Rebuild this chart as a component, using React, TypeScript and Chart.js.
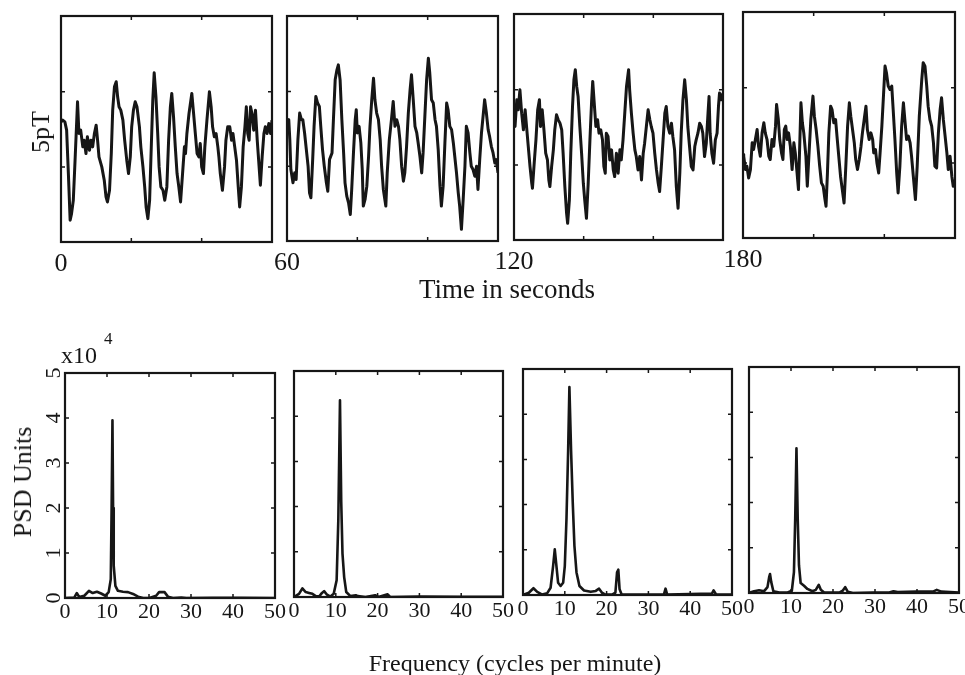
import React, { useEffect, useRef } from "react";
import { Chart, registerables } from "chart.js";

Chart.register(...registerables);

// ---------------- DATA ----------------
// Top row: magnetometer trace, [time in s, signal in arbitrary units (0..67.7 spans the frame)]
const signal0to60: [number, number][] = [
  [0, 36], [0.5, 36.5], [1.1, 36], [1.6, 33.5], [2.1, 20.5], [2.6, 6.5], [3.0, 8.5], [3.5, 12.5], [4.0, 24.5], [4.7, 42],
  [5.1, 32.5], [5.6, 33.5], [6.2, 28.5], [6.6, 30.5], [7.1, 26.5], [7.5, 31.5], [8.1, 27.5], [8.5, 30.5], [9.0, 28.5], [9.5, 32.5],
  [10.0, 35], [10.4, 30.5], [10.8, 25.5], [11.6, 22.5], [12.3, 18.5], [12.8, 13.5], [13.2, 12], [13.8, 15.5], [14.3, 26.5], [14.7, 39.5],
  [15.2, 46.5], [15.7, 48], [16.1, 43.5], [16.5, 40.5], [17.0, 39.5], [17.6, 36.5], [18.1, 30.5], [18.7, 24.5], [19.2, 20.5], [19.7, 25.5],
  [20.1, 34.5], [20.6, 39.5], [21.1, 42], [21.6, 40.5], [21.9, 38], [22.3, 34.5], [22.7, 28.5], [23.3, 22.5], [23.8, 16.5], [24.2, 10.5],
  [24.7, 7], [25.2, 12.5], [25.7, 29.5], [26.1, 42.5], [26.5, 50.7], [27.0, 43.5], [27.5, 32.5], [27.9, 22.5], [28.4, 16.5], [29.0, 15.5],
  [29.5, 12.5], [30.1, 16.5], [30.6, 30.5], [31.1, 40.5], [31.5, 44.5], [32.0, 37.5], [32.5, 28.5], [33.0, 20.5], [33.5, 16.5], [34.0, 12],
  [34.5, 19.5], [35.1, 28.5], [35.4, 26.5], [35.8, 32.5], [36.4, 38.5], [37.2, 44.5], [37.7, 38.5], [38.2, 32.5], [38.7, 26.5], [39.2, 25.5],
  [39.6, 29.5], [40.0, 22.5], [40.5, 20.5], [40.9, 28.5], [41.5, 36.5], [42.2, 45], [42.7, 40.5], [43.1, 34.5], [43.6, 31.5], [44.1, 32.5],
  [44.6, 28.5], [44.9, 25.5], [45.3, 20.5], [45.9, 15.5], [46.5, 22.5], [46.9, 30.5], [47.4, 34.5], [48.0, 34.5], [48.5, 30.5], [48.9, 32.5],
  [49.4, 28.5], [49.9, 24.5], [50.4, 16.5], [50.8, 10.5], [51.3, 16.5], [51.8, 28.5], [52.3, 34.5], [52.7, 40.5], [53.1, 32.5], [53.5, 30.5],
  [53.9, 40.5], [54.3, 38.5], [54.8, 33.5], [55.3, 39.5], [55.8, 30.5], [56.2, 24.5], [56.7, 17], [57.2, 25.5], [57.7, 32.5], [58.1, 34.5],
  [58.6, 32.5], [59.1, 35.5], [59.6, 32.5], [60, 36.5],
];

const signal60to120: [number, number][] = [
  [60, 36], [60.5, 36.5], [60.8, 30.5], [61.1, 21.5], [61.7, 17.5], [62.2, 20.5], [62.6, 18.5], [63.1, 30.5], [63.6, 38.5], [64.1, 36.5],
  [64.5, 36.5], [65.0, 32.5], [65.5, 27.5], [66.0, 22.5], [66.4, 14.5], [66.8, 13], [67.3, 24.5], [67.7, 34.5], [68.2, 43.5], [68.7, 41.5],
  [69.2, 40.5], [69.6, 34.5], [70.1, 27.5], [70.6, 22.5], [71.2, 17.5], [71.6, 15], [72.1, 24.5], [72.8, 26.5], [73.2, 36.5], [73.7, 48.5],
  [74.2, 51.5], [74.6, 53], [75.1, 48.5], [75.6, 36.5], [76.1, 26.5], [76.5, 17.5], [77.0, 13.5], [77.5, 11.5], [78.0, 8], [78.4, 15.5],
  [78.9, 26.5], [79.4, 36.5], [79.7, 39.5], [80.0, 32.5], [80.5, 34.5], [81.0, 29.5], [81.4, 21.5], [81.7, 10.5], [82.2, 12.5], [82.7, 16.5],
  [83.2, 25.5], [83.6, 34.5], [84.1, 42.5], [84.6, 49], [85.0, 42.5], [85.5, 38.5], [86.0, 36.5], [86.5, 30.5], [86.9, 22.5], [87.4, 15.5],
  [88.1, 10.5], [88.5, 20.5], [89.1, 30.5], [89.7, 36.5], [90.2, 42], [90.7, 34.5], [91.2, 36.5], [91.7, 34.5], [92.1, 30.5], [92.6, 22.5],
  [93.1, 18], [93.5, 20.5], [94.0, 28.5], [94.5, 38.5], [95.0, 45.5], [95.4, 50], [95.9, 42.5], [96.4, 34.5], [96.9, 32.5], [97.3, 29.5],
  [97.8, 25.5], [98.3, 20.5], [98.7, 26.5], [99.2, 37.5], [99.7, 48.5], [100.2, 55], [100.6, 50.5], [101.1, 42.5], [101.6, 41.5], [102.1, 36.5],
  [102.5, 34.5], [103.0, 27.5], [103.5, 16.5], [103.9, 10.5], [104.4, 16.5], [104.9, 29.5], [105.4, 41.5], [105.8, 39.5], [106.3, 34.5], [106.8, 33.5],
  [107.3, 29.5], [107.7, 25.5], [108.2, 20.5], [108.7, 14.5], [109.1, 10.5], [109.6, 3.5], [110.1, 12.5], [110.6, 22.5], [111.0, 34.5], [111.5, 32.5],
  [112.0, 26.5], [112.4, 22.5], [112.9, 21.5], [113.4, 19.5], [113.9, 22.5], [114.3, 15.5], [114.8, 24.5], [115.3, 32.5], [115.8, 38], [116.2, 42.5],
  [116.7, 38.5], [117.2, 33.5], [117.6, 31.5], [118.1, 28.5], [118.6, 26.5], [119.1, 23.5], [119.5, 24.5], [120, 20.5],
];

const signal120to180: [number, number][] = [
  [120, 34], [120.3, 34], [120.8, 42], [121.2, 39], [121.7, 45], [122.2, 38], [122.7, 33], [123.2, 39], [123.6, 34], [124.1, 28],
  [124.6, 22], [125.1, 17], [125.3, 15.5], [125.8, 23], [126.3, 30], [126.8, 39], [127.3, 42], [127.6, 34], [128.1, 39], [128.6, 33],
  [129.1, 26], [129.6, 24], [130.0, 18], [130.3, 16], [130.8, 22], [131.3, 27], [131.7, 33], [132.2, 37.5], [132.7, 36], [133.2, 35],
  [133.7, 33], [134.1, 26], [134.6, 16], [135.1, 8], [135.4, 5], [135.9, 12], [136.3, 26], [136.8, 40], [137.2, 48], [137.6, 51],
  [138.0, 46], [138.4, 43], [138.9, 34], [139.4, 26], [139.9, 17], [140.3, 12], [140.8, 6.5], [141.3, 17], [141.8, 30], [142.3, 42],
  [142.6, 47.5], [143.1, 40], [143.5, 34], [144.0, 36], [144.4, 32], [144.9, 33], [145.4, 30], [145.8, 22], [146.2, 20], [146.5, 32],
  [147.0, 31], [147.5, 24], [148.0, 27], [148.5, 21], [148.9, 19], [149.4, 26], [149.9, 20], [150.4, 27], [150.8, 24], [151.3, 30],
  [151.8, 38], [152.3, 46], [152.9, 51], [153.2, 45], [153.7, 38], [154.2, 32], [154.7, 27], [155.1, 25], [155.6, 21], [156.1, 25],
  [156.6, 18], [157.1, 26], [157.5, 29], [158.0, 34], [158.5, 39], [159.0, 36], [159.4, 34], [159.9, 32], [160.4, 26], [160.9, 21],
  [161.4, 17], [161.8, 14.5], [162.3, 22], [162.8, 30], [163.3, 38], [163.7, 40], [164.2, 34], [164.7, 32], [165.2, 35], [165.6, 31],
  [166.1, 27], [166.6, 16], [167.1, 9.5], [167.6, 20], [168.0, 32], [168.5, 42], [169.0, 48], [169.5, 42], [169.9, 34], [170.4, 28],
  [170.9, 22], [171.4, 21], [171.9, 28], [172.3, 30], [172.8, 32], [173.3, 35], [173.8, 34], [174.2, 32], [174.7, 25], [175.2, 29],
  [175.7, 38], [176.0, 43], [176.3, 32], [176.8, 26], [177.3, 23], [177.8, 30], [178.3, 32], [178.7, 40], [179.0, 44], [179.5, 42],
  [180, 44],
];

const signal180to240: [number, number][] = [
  [180, 25], [180.2, 24.5], [180.7, 20.5], [181.1, 21.5], [181.6, 18], [182.1, 20.5], [182.6, 28.5], [183.0, 26.5], [183.5, 29.5], [184.0, 32.5],
  [184.4, 27.5], [184.9, 24.5], [185.4, 31.5], [185.9, 34.5], [186.3, 31.5], [186.8, 29.5], [187.3, 24.5], [187.7, 23.5], [188.2, 29.5], [188.7, 27.5],
  [189.2, 33.5], [189.5, 40], [190.0, 35.5], [190.4, 29.5], [190.9, 25.5], [191.3, 23.5], [191.7, 32.5], [192.1, 33.5], [192.5, 29.5], [192.9, 31.5],
  [193.4, 27.5], [193.9, 20.5], [194.4, 28.5], [194.8, 25.5], [195.3, 19.5], [195.7, 14.5], [196.1, 29.5], [196.4, 40.5], [196.8, 34.5], [197.2, 31.5],
  [197.8, 24.5], [198.2, 15.5], [198.7, 25.5], [199.2, 35.5], [199.8, 42.5], [200.2, 36.5], [200.7, 32.5], [201.2, 27.5], [201.7, 21.5], [202.2, 16.5],
  [202.7, 15.5], [203.2, 11.5], [203.5, 9.5], [203.9, 19.5], [204.3, 31.5], [204.8, 39.5], [205.2, 38.5], [205.7, 34.5], [206.2, 35.5], [206.6, 30.5],
  [207.1, 24.5], [207.6, 18.5], [208.1, 14.5], [208.6, 10.5], [209.1, 21.5], [209.6, 33.5], [210.1, 40.5], [210.5, 36.5], [211.0, 32.5], [211.5, 28.5],
  [211.9, 23.5], [212.4, 20.5], [212.9, 23.5], [213.4, 27.5], [213.8, 31.5], [214.3, 35.5], [214.8, 39.5], [215.2, 32.5], [215.7, 29.5], [216.2, 31.5],
  [216.7, 29.5], [217.0, 25.5], [217.5, 26.5], [217.9, 22.5], [218.4, 19.5], [218.8, 25.5], [219.3, 33.5], [219.7, 41.5], [220.2, 51.5], [220.6, 49.5],
  [221.1, 45.5], [221.6, 44.5], [222.1, 45.5], [222.5, 38.5], [223.0, 29.5], [223.5, 19.5], [223.9, 13.5], [224.4, 21.5], [224.9, 33.5], [225.4, 40.5],
  [225.8, 35.5], [226.3, 29.5], [226.8, 30.5], [227.3, 28.5], [227.7, 24.5], [228.2, 18.5], [228.8, 11.5], [229.3, 21.5], [229.9, 36.5], [230.6, 47.5],
  [231.0, 52.5], [231.5, 51.5], [232.0, 45.5], [232.4, 39.5], [232.9, 35.5], [233.4, 33.5], [233.9, 28.5], [234.3, 21.5], [234.8, 21], [235.3, 31.5],
  [235.8, 38.5], [236.2, 42], [236.7, 35.5], [237.2, 30.5], [237.7, 25.5], [238.1, 20.5], [238.6, 24.5], [239.1, 18.5], [239.5, 15.5], [240, 17.5],
];

// Bottom row: power spectral density (x10^4 PSD units) vs frequency (cycles per minute)
const psdFreq1 = [0, 0.2, 2.2, 2.8, 3.4, 4.6, 5.7, 6.6, 7.6, 8.6, 9.6, 10.4, 10.9, 11.1, 11.3, 11.45, 11.6, 12.0, 12.6, 13.8, 15.0, 16.2, 17.4, 18.6, 20.1, 21.7, 22.4, 23.7, 24.5, 25.7, 27.7, 28.9, 35, 42, 50];
const psdPower1 = [0, 0, 0.01, 0.11, 0.02, 0.05, 0.16, 0.11, 0.14, 0.1, 0.05, 0.13, 0.42, 2.0, 3.95, 2.0, 0.72, 0.27, 0.16, 0.14, 0.13, 0.09, 0.03, 0, 0, 0.05, 0.13, 0.13, 0.03, 0, 0.01, 0, 0.005, 0.005, 0];

const psdFreq2 = [0, 0.2, 1.2, 2.0, 2.8, 3.6, 4.4, 5.2, 6.0, 6.7, 7.2, 7.8, 8.7, 9.5, 10.2, 10.6, 11.0, 11.3, 11.6, 12.0, 12.5, 13.5, 14.8, 15.3, 17.1, 19.4, 20.2, 22.4, 23.0, 30, 40, 50];
const psdPower2 = [0, 0, 0.07, 0.19, 0.11, 0.09, 0.07, 0.02, 0.01, 0.09, 0.13, 0.06, 0.01, 0.07, 0.37, 1.7, 4.35, 2.1, 0.96, 0.44, 0.11, 0.02, 0.04, 0.02, 0, 0.04, 0, 0.06, 0, 0.01, 0.005, 0.005];

const psdFreq3 = [0, 0.2, 1.4, 2.5, 3.4, 4.6, 5.8, 6.6, 7.2, 7.6, 8.0, 8.4, 9.0, 9.6, 10.0, 10.4, 10.8, 11.1, 11.5, 11.9, 12.3, 12.8, 13.5, 14.6, 16.2, 17.4, 18.2, 18.9, 19.7, 21.3, 22.1, 22.5, 22.8, 23.1, 23.6, 26.1, 33.7, 34.1, 34.5, 45.2, 45.6, 46.2, 50];
const psdPower3 = [0, 0, 0.05, 0.15, 0.07, 0.01, 0.04, 0.16, 0.64, 1.01, 0.64, 0.27, 0.2, 0.27, 0.64, 1.68, 3.2, 4.6, 3.2, 2.05, 1.09, 0.5, 0.2, 0.1, 0.07, 0.09, 0.14, 0.05, 0.01, 0.01, 0.05, 0.5, 0.56, 0.13, 0.01, 0.01, 0.01, 0.14, 0.01, 0.03, 0.1, 0.01, 0.01];

const psdFreq4 = [0, 0.2, 1.2, 2.4, 3.6, 4.4, 4.8, 5.0, 5.3, 5.8, 7.2, 9.2, 10.2, 10.7, 11.0, 11.3, 11.6, 11.9, 12.3, 13.1, 13.9, 15.1, 15.9, 16.6, 17.1, 17.9, 21.5, 22.3, 22.9, 23.5, 24.7, 29.5, 33.4, 34.4, 35.4, 39.8, 43.8, 44.7, 45.8, 50];
const psdPower4 = [0, 0, 0.04, 0.06, 0.04, 0.13, 0.35, 0.42, 0.24, 0.04, 0.01, 0.01, 0.05, 0.46, 1.64, 3.2, 1.64, 0.61, 0.22, 0.16, 0.09, 0.04, 0.07, 0.18, 0.07, 0.01, 0.01, 0.05, 0.13, 0.03, 0, 0.01, 0.01, 0.04, 0.02, 0.03, 0.03, 0.07, 0.03, 0.01];

const timeWindowStarts = [0, 60, 120, 180];
const psdTicks = [0, 10, 20, 30, 40, 50];
const psdYTicks = [0, 1, 2, 3, 4, 5];

// ---------------- LAYOUT ----------------
const W = 965;
const H = 675;
const AXIS_H = 44;
const INK = "#161616";
const FONT = "'Liberation Serif', 'Times New Roman', serif";

type Box = { left: number; top: number; right: number; bottom: number };

interface PanelSpec {
  id: string;
  kind: "time" | "psd";
  points: { x: number; y: number }[];
  xMin: number;
  xMax: number;
  yMax: number;
  box: Box;
  yLabels: boolean;
  xMarks: number[];
  yMarks: number[];
}

const topBoxes: Box[] = [
  { left: 61, top: 16, right: 272, bottom: 242 },
  { left: 287, top: 16, right: 498, bottom: 241 },
  { left: 514, top: 14, right: 723, bottom: 240 },
  { left: 743, top: 12, right: 955, bottom: 238 },
];
const bottomBoxes: Box[] = [
  { left: 65, top: 373, right: 275, bottom: 598 },
  { left: 294, top: 371, right: 503, bottom: 597 },
  { left: 523, top: 369, right: 732, bottom: 595 },
  { left: 749, top: 367, right: 959, bottom: 593 },
];

const topSeries = [signal0to60, signal60to120, signal120to180, signal180to240];
const psdSeries: [number[], number[]][] = [
  [psdFreq1, psdPower1],
  [psdFreq2, psdPower2],
  [psdFreq3, psdPower3],
  [psdFreq4, psdPower4],
];

const panels: PanelSpec[] = [
  ...topSeries.map((s, i) => ({
    id: "top" + i,
    kind: "time" as const,
    points: s.map(([x, y]) => ({ x, y })),
    xMin: timeWindowStarts[i],
    xMax: timeWindowStarts[i] + 60,
    yMax: 67.7,
    box: topBoxes[i],
    yLabels: false,
    xMarks: [timeWindowStarts[i] + 20, timeWindowStarts[i] + 40],
    yMarks: [22.5, 45],
  })),
  ...psdSeries.map(([f, p], i) => ({
    id: "psd" + i,
    kind: "psd" as const,
    points: f.map((x, k) => ({ x, y: p[k] })),
    xMin: 0,
    xMax: 50,
    yMax: 5,
    box: bottomBoxes[i],
    yLabels: i === 0,
    xMarks: psdTicks.slice(1, -1),
    yMarks: psdYTicks.slice(1, -1),
  })),
];

const framePlugin = {
  id: "frame",
  afterDatasetsDraw(chart: any, _args: any, opts: any) {
    const { ctx, chartArea: a, scales } = chart;
    const xs = scales.x;
    const ys = scales.y;
    ctx.save();
    ctx.strokeStyle = INK;
    ctx.lineWidth = 2.2;
    ctx.strokeRect(a.left, a.top, a.right - a.left, a.bottom - a.top);
    ctx.lineWidth = 1.5;
    ctx.beginPath();
    (opts.xMarks || []).forEach((v: number) => {
      const px = xs.getPixelForValue(v);
      ctx.moveTo(px, a.bottom);
      ctx.lineTo(px, a.bottom - 4);
      ctx.moveTo(px, a.top);
      ctx.lineTo(px, a.top + 4);
    });
    (opts.yMarks || []).forEach((v: number) => {
      const py = ys.getPixelForValue(v);
      ctx.moveTo(a.left, py);
      ctx.lineTo(a.left + 4, py);
      ctx.moveTo(a.right, py);
      ctx.lineTo(a.right - 4, py);
    });
    ctx.stroke();
    if (opts.yLabels) {
      ctx.fillStyle = INK;
      ctx.font = `22px ${FONT}`;
      ctx.textAlign = "center";
      ctx.textBaseline = "middle";
      ys.ticks.forEach((t: any) => {
        const py = ys.getPixelForValue(t.value);
        ctx.save();
        ctx.translate(a.left - 11, py);
        ctx.rotate(-Math.PI / 2);
        ctx.fillText(String(t.label), 0, 0);
        ctx.restore();
      });
    }
    ctx.restore();
  },
};

function Panel({ spec }: { spec: PanelSpec }) {
  const ref = useRef<HTMLCanvasElement | null>(null);
  useEffect(() => {
    if (!ref.current) return;
    const { box } = spec;
    const isTime = spec.kind === "time";
    const chart = new Chart(ref.current, {
      type: "line",
      data: {
        datasets: [
          {
            data: spec.points,
            borderColor: INK,
            borderWidth: isTime ? 3 : 2.6,
            pointRadius: 0,
            tension: 0,
            fill: false,
            borderJoinStyle: "round",
          } as any,
        ],
      },
      options: {
        animation: false,
        responsive: false,
        devicePixelRatio: 1,
        events: [],
        layout: {
          padding: {
            left: box.left,
            top: box.top,
            right: W - box.right,
            bottom: H - box.bottom - AXIS_H,
          },
        },
        plugins: {
          legend: { display: false },
          tooltip: { enabled: false },
          frame: { xMarks: spec.xMarks, yMarks: spec.yMarks, yLabels: spec.yLabels },
        } as any,
        scales: {
          x: {
            type: "linear",
            min: spec.xMin,
            max: spec.xMax,
            grid: { display: false, drawTicks: false },
            border: { display: false },
            ticks: {
              color: INK,
              font: { family: FONT, size: isTime ? 26 : 22 },
              padding: isTime ? 7 : 1,
              maxRotation: 0,
              autoSkip: false,
              stepSize: isTime ? 60 : 10,
              callback: (v: any) => String(v),
            },
            afterBuildTicks: isTime
              ? (scale: any) => {
                  scale.ticks = [{ value: spec.xMin }];
                }
              : undefined,
            afterFit: (scale: any) => {
              scale.height = AXIS_H;
              scale.paddingLeft = 0;
              scale.paddingRight = 0;
            },
          },
          y: {
            type: "linear",
            display: false,
            min: 0,
            max: spec.yMax,
            ticks: { stepSize: isTime ? 22.5 : 1 },
          },
        },
      } as any,
      plugins: [framePlugin],
    });
    return () => chart.destroy();
  }, [spec]);
  return (
    <canvas
      ref={ref}
      width={W}
      height={H}
      style={{ position: "absolute", left: 0, top: 0, width: W, height: H }}
    />
  );
}

const textBase: React.CSSProperties = {
  position: "absolute",
  fontFamily: FONT,
  color: INK,
  whiteSpace: "nowrap",
  lineHeight: 1,
};

export default function App() {
  return (
    <div style={{ position: "absolute", left: 0, top: 0, width: W, height: H, background: "#fff", overflow: "hidden" }}>
      {panels.map((p) => (
        <Panel key={p.id} spec={p} />
      ))}
      <div style={{ ...textBase, left: 41, top: 132, fontSize: 26, transform: "translate(-50%, -50%) rotate(-90deg)" }}>5pT</div>
      <div style={{ ...textBase, left: 507, top: 289, fontSize: 27, transform: "translate(-50%, -50%)" }}>Time in seconds</div>
      <div style={{ ...textBase, left: 61, top: 343, fontSize: 24 }}>x10</div>
      <div style={{ ...textBase, left: 104, top: 330, fontSize: 17 }}>4</div>
      <div style={{ ...textBase, left: 23, top: 482, fontSize: 26, transform: "translate(-50%, -50%) rotate(-90deg)" }}>PSD Units</div>
      <div style={{ ...textBase, left: 515, top: 663, fontSize: 24, transform: "translate(-50%, -50%)" }}>Frequency (cycles per minute)</div>
    </div>
  );
}
